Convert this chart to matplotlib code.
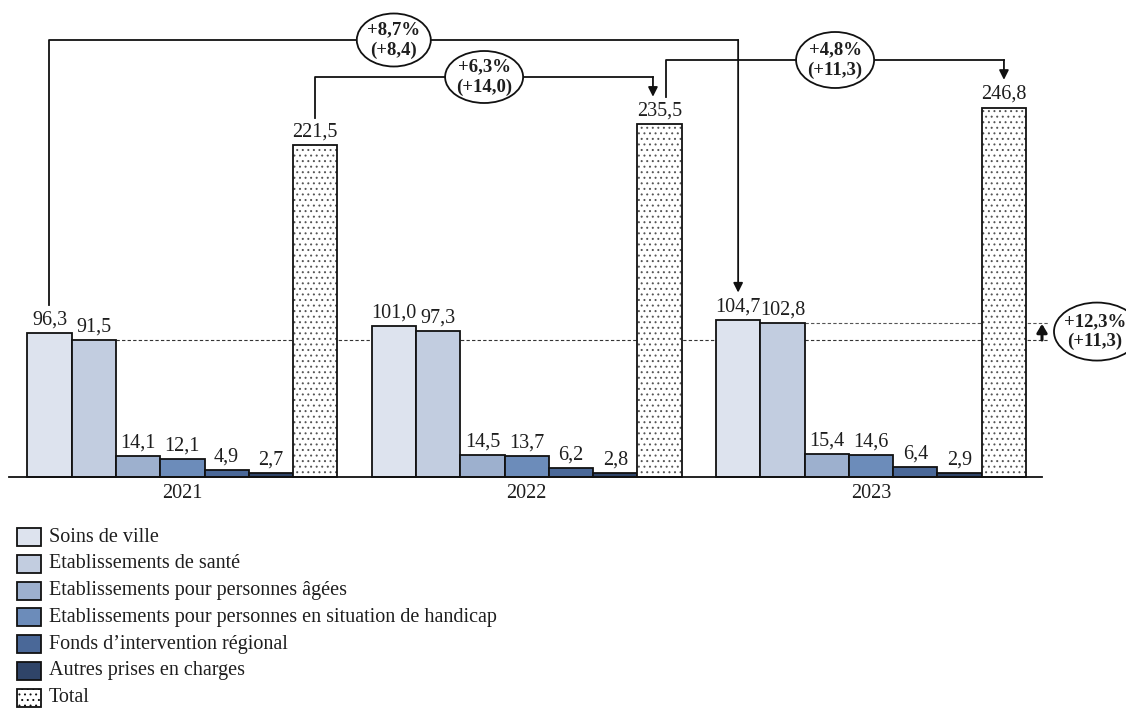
import matplotlib
matplotlib.use("Agg")
import matplotlib.pyplot as plt
from matplotlib.patches import Ellipse, Rectangle
import numpy as np

# ── Data ───────────────────────────────────────────────────────────────────────

years = ["2021", "2022", "2023"]
series = [
    "Soins de ville",
    "Etablissements de santé",
    "Etablissements pour personnes âgées",
    "Etablissements pour personnes en situation de handicap",
    "Fonds d’intervention régional",
    "Autres prises en charges",
    "Total",
]
soins_ville   = [96.3, 101.0, 104.7]
etab_sante    = [91.5, 97.3, 102.8]
etab_agees    = [14.1, 14.5, 15.4]
etab_handicap = [12.1, 13.7, 14.6]
fir           = [4.9, 6.2, 6.4]
autres        = [2.7, 2.8, 2.9]
total         = [221.5, 235.5, 246.8]

values = [soins_ville, etab_sante, etab_agees, etab_handicap, fir, autres, total]
colors = ["#dde3ee", "#c2cde0", "#9db0ce", "#6c8cba", "#4a6898", "#2f4468", "#ffffff"]

# ── Style ──────────────────────────────────────────────────────────────────────

plt.rcParams["font.family"] = ["Liberation Serif", "DejaVu Serif"]
plt.rcParams["hatch.linewidth"] = 0.7
FS    = 14.5
FS_B  = 13.5             # bold text inside the bubbles
EDGE  = "#111111"
TXT   = "#1e1e1e"
DPI   = 100
W, H  = 1126, 708

# pixel geometry of the layout
BAR_PX   = 44.3          # one bar width in pixels
GROUP    = 7.773         # group pitch in bar widths
BASE_PX  = 477           # baseline, pixels from top
Y_PX     = 1.497         # pixels per unit

fig = plt.figure(figsize=(W / DPI, H / DPI), dpi=DPI)
ax = fig.add_axes([0, 0, 1, 1])
xmin = -0.5 - 27.3 / BAR_PX
ax.set_xlim(xmin, xmin + W / BAR_PX)
ax.set_ylim(-(H - BASE_PX) / Y_PX, BASE_PX / Y_PX)
ax.axis("off")


def px_x(p):
    return p / BAR_PX + xmin


def px_y(p):
    return (BASE_PX - p) / Y_PX


def fr(v, nd=1):
    return f"{v:.{nd}f}".replace(".", ",")


centers = np.arange(len(years)) * GROUP

# ── Bars ───────────────────────────────────────────────────────────────────────

for j, (vals, col) in enumerate(zip(values, colors)):
    x = centers + j
    if series[j] == "Total":
        ax.bar(x, vals, width=1.0, color="white", edgecolor="#555555",
               linewidth=0, hatch="...", zorder=3)
        ax.bar(x, vals, width=1.0, fill=False, edgecolor=EDGE,
               linewidth=1.3, zorder=4)
    else:
        ax.bar(x, vals, width=1.0, color=col, edgecolor=EDGE,
               linewidth=1.3, zorder=3)
    for xi, v in zip(x, vals):
        ax.text(xi, v + 8.7, fr(v), ha="center", va="center",
                fontsize=FS, color=TXT, zorder=5)

# baseline
ax.plot([px_x(9), px_x(1042)], [0, 0], color=EDGE, linewidth=1.3, zorder=6)

for c, yr in zip(centers, years):
    ax.text(c + 3, px_y(493), yr, ha="center", va="center",
            fontsize=FS, color=TXT)

# ── Growth connectors ──────────────────────────────────────────────────────────

LINE = dict(color=EDGE, linewidth=1.3, zorder=6)
GAP = 18.5        # space between a label and the connector end


def bubble(xc, yc, lines, w_px, h_px, tx=0.0):
    ax.add_patch(Ellipse((xc, yc), w_px / BAR_PX, h_px / Y_PX,
                         facecolor="white", edgecolor=EDGE, linewidth=1.3,
                         zorder=7))
    ax.text(xc + tx, yc, lines, ha="center", va="center", fontsize=FS_B,
            fontweight="bold", linespacing=1.25, color=TXT, zorder=8)


def connector(x0, v0, x1, v1, level, w_px, h_px, lines):
    y0 = v0 + GAP
    y1 = v1 + GAP
    ax.plot([x0, x0, x1], [y0, level, level], **LINE)
    ax.annotate("", xy=(x1, y1), xytext=(x1, level),
                arrowprops=dict(arrowstyle="-|>", color=EDGE, lw=1.3,
                                mutation_scale=14, shrinkA=0, shrinkB=0),
                zorder=6)
    bubble((x0 + x1) / 2, level, lines, w_px, h_px)


def growth(a, b):
    return f"+{fr((b / a - 1) * 100)}%\n(+{fr(b - a)})"


# soins de ville 2021 -> 2023
connector(centers[0], soins_ville[0], centers[2], soins_ville[2],
          px_y(40), 74, 53, growth(soins_ville[0], soins_ville[2]))
# total 2021 -> 2022
connector(centers[0] + 6, total[0], centers[1] + 6 - 0.15, total[1],
          px_y(77), 78, 52, growth(total[0], total[1]))
# total 2022 -> 2023
connector(centers[1] + 6 + 0.15, total[1], centers[2] + 6, total[2],
          px_y(60), 78, 56, growth(total[1], total[2]))

# établissements de santé 2021 vs 2023
x_end = px_x(1048)
ax.plot([centers[0] + 1.5, x_end], [etab_sante[0]] * 2, color="#333333",
        linewidth=0.8, linestyle=(0, (3, 2)), zorder=1)
ax.plot([centers[2] + 1.5, x_end], [etab_sante[2]] * 2, color="#555555",
        linewidth=0.8, linestyle=(0, (3, 2)), zorder=1)
ax.annotate("", xy=(px_x(1042), etab_sante[2] - 0.5),
            xytext=(px_x(1042), etab_sante[0]),
            arrowprops=dict(arrowstyle="-|>,head_length=0.5,head_width=0.3",
                            color=EDGE, lw=2.2, mutation_scale=10,
                            shrinkA=0, shrinkB=0),
            zorder=6)
bubble(px_x(1097), (etab_sante[0] + etab_sante[2]) / 2,
       growth(etab_sante[0], etab_sante[2]), 86, 58, tx=-2 / BAR_PX)

# ── Legend ─────────────────────────────────────────────────────────────────────

for i, (name, col) in enumerate(zip(series, colors)):
    yc = px_y(537 + i * 26.8)
    hatch = "..." if name == "Total" else None
    ax.add_patch(Rectangle((px_x(17), yc - 9 / Y_PX), 24 / BAR_PX, 18 / Y_PX,
                           facecolor=col, edgecolor=EDGE, linewidth=1.3,
                           hatch=hatch, clip_on=False))
    ax.text(px_x(49), yc, name, ha="left", va="center", fontsize=FS,
            color=TXT)

fig.savefig("out.png", dpi=DPI, facecolor="white")
